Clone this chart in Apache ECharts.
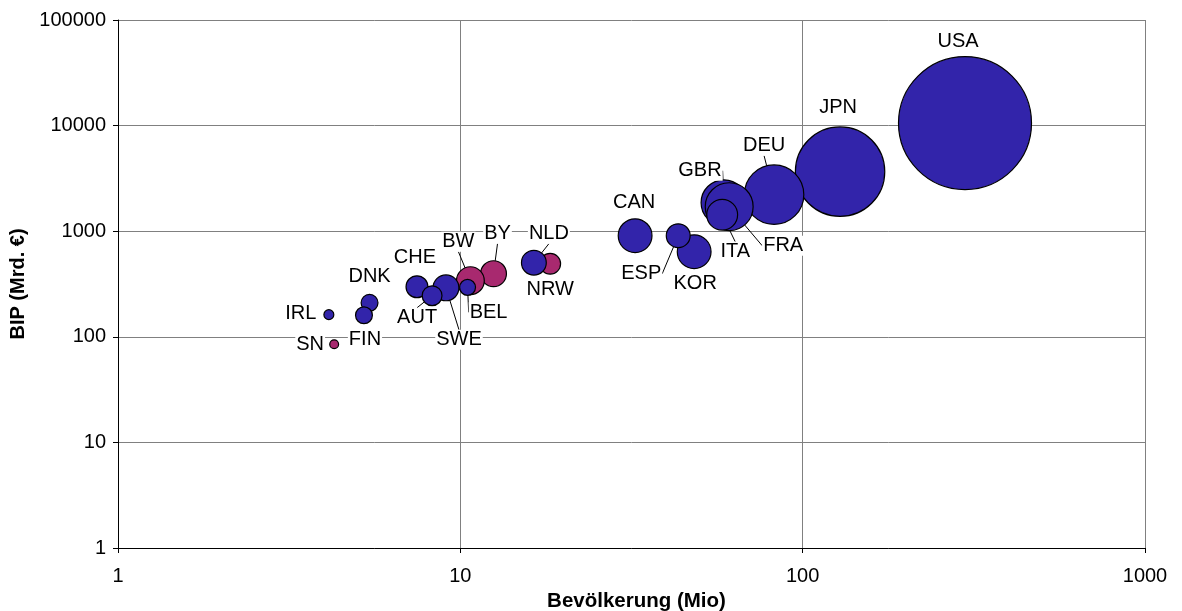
<!DOCTYPE html>
<html>
<head>
<meta charset="utf-8">
<script src="https://cdn.jsdelivr.net/npm/echarts@6/dist/echarts.min.js"></script>
<style>
html,body{margin:0;padding:0;background:#fff;}
#chart{width:1182px;height:611px;}
</style>
</head>
<body>
<div id="chart"></div>
<script>
// Countries (blue series)
const countryNames = ['USA','JPN','DEU','GBR','FRA','ITA','CAN','KOR','ESP','NLD','SWE','CHE','AUT','BEL','DNK','FIN','IRL'];
const countryPop   = [298, 128.6, 82.5, 58.9, 61.0, 58.2, 32.4, 48.2, 43.3, 16.4, 9.08, 7.47, 8.27, 10.5, 5.43, 5.23, 4.13];
const countryGdp   = [10560, 3664, 2218, 1862, 1707, 1433, 906, 639, 906, 503, 291, 298, 245, 294, 210, 160, 162];
const countrySize  = [270, 122, 54, 32, 35, 14.5, 17.4, 17.4, 8.7, 9.4, 10.2, 7.3, 6.0, 3.85, 4.35, 4.35, 1.5];

// German states (magenta series)
const stateNames = ['BY','BW','NRW','SN'];
const statePop   = [12.5, 10.7, 18.3, 4.28];
const stateGdp   = [396, 340, 492, 85];
const stateSize  = [10.2, 11.8, 6.6, 1.2];

// Axis ticks
const xTicks = [1, 10, 100, 1000];
const yTicks = [1, 10, 100, 1000, 10000, 100000];

// Label placement (offset of label centre from bubble centre, px) and leader lines
const labelOffset = {
  USA:[-7,-82], JPN:[-2,-64], DEU:[-10,-49], GBR:[-24,-32], FRA:[54,39], ITA:[13,37],
  CAN:[-1,-33], ESP:[-37,38], KOR:[1,32], NLD:[15,-29], NRW:[0,26], BY:[4,-40],
  BW:[-12,-39], BEL:[21,25], SWE:[13,52], AUT:[-15,22], CHE:[-2,-29], DNK:[0,-26],
  FIN:[1,24], IRL:[-28,-1], SN:[-24,0]
};
const withLeader = ['DEU','GBR','FRA','ITA','ESP','NLD','BY','BW','BEL','SWE','AUT'];

const FONT = "'Liberation Sans', Arial, sans-serif";
const maxSize = 270, maxDiam = 133;

function build(names, pop, gdp, size) {
  return names.map((n, i) => ({
    name: n,
    value: [pop[i], gdp[i], size[i]],
    labelLine: { show: withLeader.indexOf(n) >= 0 }
  }));
}

function series(names, pop, gdp, size, color) {
  return {
    type: 'scatter',
    data: build(names, pop, gdp, size),
    symbol: 'circle',
    symbolSize: v => maxDiam * Math.sqrt(v[2] / maxSize),
    itemStyle: { color: color, borderColor: '#000', borderWidth: 1.2, opacity: 1 },
    label: {
      show: true, position: 'inside', formatter: p => p.name,
      color: '#000', fontSize: 20, fontFamily: FONT,
      backgroundColor: '#fff', padding: [0, 1]
    },
    labelLine: { show: true, lineStyle: { color: '#000', width: 1 } },
    labelLayout: p => {
      const o = labelOffset[names[p.dataIndex]];
      return { dx: o[0], dy: o[1] };
    },
    emphasis: { disabled: true },
    silent: true
  };
}

const plain = v => String(v);

const chart = echarts.init(document.getElementById('chart'));
chart.setOption({
  animation: false,
  backgroundColor: '#fff',
  grid: { left: 118, right: 37, top: 20, bottom: 63, outerBoundsMode: 'none', containLabel: false },
  xAxis: {
    type: 'log', logBase: 10, min: xTicks[0], max: xTicks[xTicks.length - 1],
    name: 'Bevölkerung (Mio)', nameLocation: 'middle', nameGap: 43,
    nameTextStyle: { fontSize: 20.5, fontWeight: 'bold', fontFamily: FONT, color: '#000', padding: [0, 0, 0, 10] },
    axisLine: { show: true, lineStyle: { color: '#000', width: 1 } },
    axisTick: { show: true, length: 5, lineStyle: { color: '#000' } },
    axisLabel: { fontSize: 20, fontFamily: FONT, color: '#000', margin: 18, formatter: plain },
    splitLine: { show: true, lineStyle: { color: '#808080', width: 1 } },
    minorTick: { show: false }
  },
  yAxis: {
    type: 'log', logBase: 10, min: yTicks[0], max: yTicks[yTicks.length - 1],
    name: 'BIP (Mrd. €)', nameLocation: 'middle', nameGap: 80,
    nameTextStyle: { fontSize: 20, fontWeight: 'bold', fontFamily: FONT, color: '#000' },
    axisLine: { show: true, lineStyle: { color: '#000', width: 1 } },
    axisTick: { show: true, length: 5, lineStyle: { color: '#000' } },
    axisLabel: { fontSize: 20, fontFamily: FONT, color: '#000', margin: 12, formatter: plain },
    splitLine: { show: true, lineStyle: { color: '#808080', width: 1 } }
  },
  series: [
    series(stateNames, statePop, stateGdp, stateSize, '#A8296F'),
    series(countryNames, countryPop, countryGdp, countrySize, '#3224AA')
  ]
});
</script>
</body>
</html>
